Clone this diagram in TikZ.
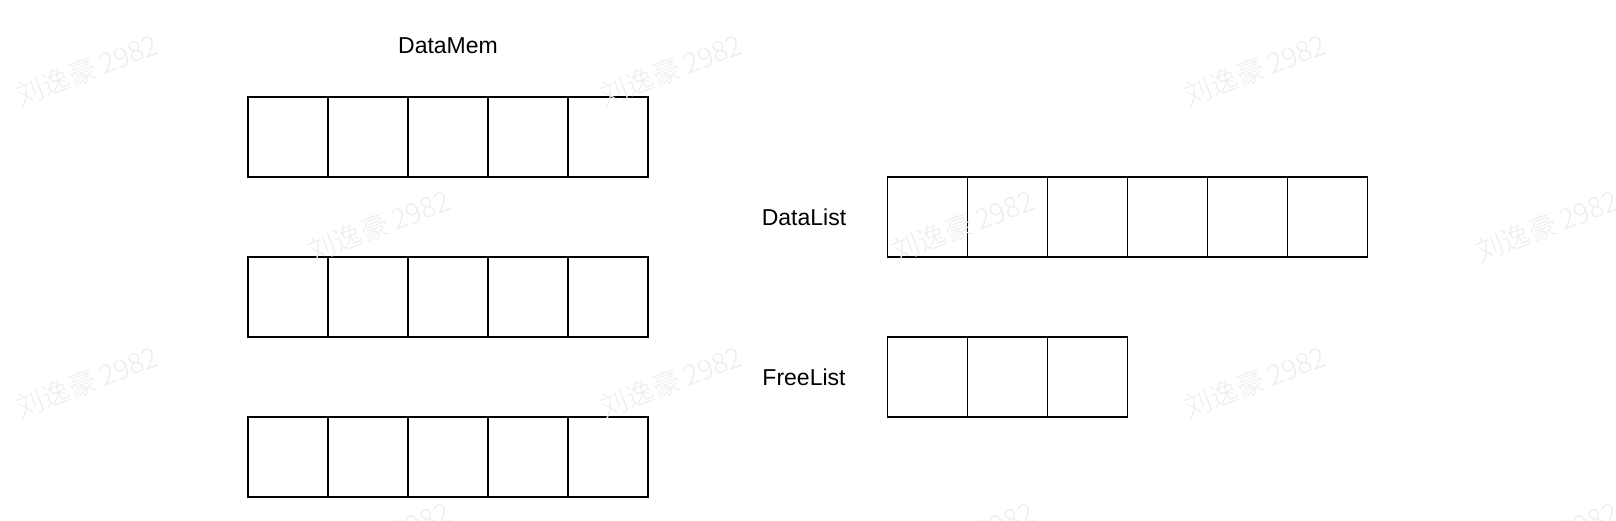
\documentclass[tikz,border=0pt]{standalone}
\usepackage{fontspec}
\setmainfont{Liberation Sans}
\newfontfamily\cjkwm{Noto Sans CJK SC Light}
\begin{document}
\begin{tikzpicture}[x=1pt,y=-1pt,
  cell/.style={draw=black, line width=1.9pt, fill=white, minimum width=80pt, minimum height=80pt, inner sep=0pt, outer sep=0pt},
  lbl/.style={font=\fontsize{23}{27}\selectfont, inner sep=0pt},
  wmark/.style={font=\cjkwm\fontsize{28}{32}\selectfont, text=black!7, rotate=21, inner sep=0pt}]
\useasboundingbox (0,0) rectangle (1616,520);
% DataMem rows
\foreach \r/\y in {1/137,2/297,3/457}{
  \foreach \c in {1,...,5}{
    \node[cell] (m\r c\c) at ({208+80*\c},\y) {};
  }
}
% DataList
\foreach \c in {1,...,6}{
  \node[cell] (d\c) at ({847.5+80*\c},217) {};
}
% FreeList
\foreach \c in {1,...,3}{
  \node[cell] (f\c) at ({847.5+80*\c},377) {};
}
\node[lbl] (datamem) at (448,46) {DataMem};
\node[lbl] (datalist) at (804,217) {DataList};
\node[lbl] (freelist) at (804,377) {FreeList};
% watermarks
\foreach \x/\y [count=\i] in {87/70,671/70,1255/70,379/226,963/226,1547/226,87/382,671/382,1255/382,379/538,963/538,1547/538}{
  \node[wmark] (wm\i) at (\x,\y) {刘逸豪 2982};
}
\end{tikzpicture}
\end{document}
